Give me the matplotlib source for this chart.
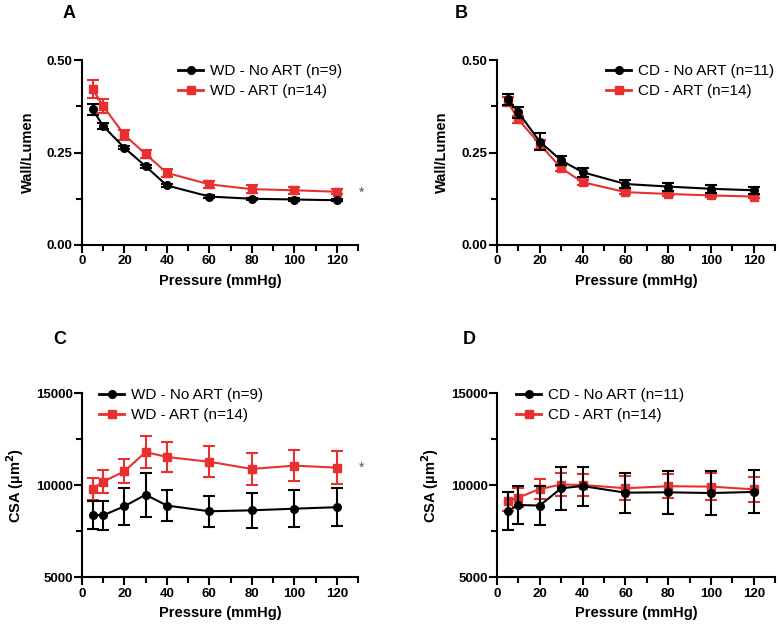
import matplotlib
matplotlib.use("Agg")
import matplotlib.pyplot as plt
from matplotlib.ticker import MultipleLocator
from matplotlib.lines import Line2D

plt.rcParams['font.family'] = ['Liberation Sans', 'DejaVu Sans']

pressure = [5, 10, 20, 30, 40, 60, 80, 100, 120]

# Panel A: Wall/Lumen, WD
a_noart = [0.367, 0.322, 0.263, 0.213, 0.161, 0.131, 0.125, 0.123, 0.121]
a_noart_err = [0.015, 0.007, 0.004, 0.004, 0.003, 0.003, 0.003, 0.003, 0.003]
a_art = [0.422, 0.376, 0.298, 0.246, 0.195, 0.164, 0.151, 0.148, 0.144]
a_art_err = [0.025, 0.019, 0.013, 0.011, 0.010, 0.010, 0.010, 0.009, 0.007]

# Panel B: Wall/Lumen, CD
b_noart = [0.395, 0.359, 0.280, 0.229, 0.197, 0.165, 0.158, 0.152, 0.148]
b_noart_err = [0.015, 0.015, 0.022, 0.012, 0.012, 0.012, 0.011, 0.011, 0.010]
b_art = [0.388, 0.340, 0.273, 0.208, 0.170, 0.143, 0.138, 0.134, 0.131]
b_art_err = [0.012, 0.010, 0.012, 0.007, 0.007, 0.005, 0.005, 0.005, 0.005]

# Panel C: CSA, WD
c_noart = [8380, 8360, 8850, 9480, 8890, 8580, 8630, 8720, 8800]
c_noart_err = [780, 800, 1000, 1200, 820, 830, 960, 1000, 1020]
c_art = [9790, 10190, 10750, 11800, 11530, 11270, 10880, 11060, 10950]
c_art_err = [620, 610, 660, 850, 810, 830, 880, 840, 880]

# Panel D: CSA, CD
d_noart = [8580, 8920, 8890, 9830, 9950, 9590, 9610, 9570, 9630]
d_noart_err = [1020, 1040, 1040, 1180, 1060, 1090, 1160, 1200, 1170]
d_art = [9120, 9320, 9790, 10030, 10010, 9830, 9940, 9920, 9770]
d_art_err = [520, 520, 570, 620, 620, 650, 660, 720, 670]

RED = '#E8302E'
BLACK = '#000000'
W, H = 780, 628

fig = plt.figure(figsize=(7.8, 6.28), dpi=100)

positions = {
    'A': [0.105, 0.610, 0.354, 0.294],
    'B': [0.637, 0.610, 0.357, 0.294],
    'C': [0.105, 0.081, 0.354, 0.293],
    'D': [0.637, 0.081, 0.357, 0.293],
}
# legend anchors (pixels: left, top) and panel letter positions (pixels)
legend_px = {'A': (178, 64), 'B': (606, 64), 'C': (99, 388), 'D': (516, 388)}
letter_px = {'A': (63, 13), 'B': (455, 13), 'C': (53, 339), 'D': (463, 339)}

panels = [
    ('A', a_noart, a_noart_err, a_art, a_art_err, 'WD - No ART (n=9)', 'WD - ART (n=14)', 'wl', True),
    ('B', b_noart, b_noart_err, b_art, b_art_err, 'CD - No ART (n=11)', 'CD - ART (n=14)', 'wl', False),
    ('C', c_noart, c_noart_err, c_art, c_art_err, 'WD - No ART (n=9)', 'WD - ART (n=14)', 'csa', True),
    ('D', d_noart, d_noart_err, d_art, d_art_err, 'CD - No ART (n=11)', 'CD - ART (n=14)', 'csa', False),
]

for key, y1, e1, y2, e2, lab1, lab2, kind, star in panels:
    ax = fig.add_axes(positions[key])
    ax.errorbar(pressure, y2, yerr=e2, color=RED, marker='s', markersize=5.5,
                linewidth=1.5, elinewidth=1.5, capsize=4, capthick=1.5,
                zorder=2, clip_on=False)
    ax.errorbar(pressure, y1, yerr=e1, color=BLACK, marker='o', markersize=5.5,
                linewidth=1.5, elinewidth=1.5, capsize=4, capthick=1.5,
                zorder=3, clip_on=False)
    ax.set_xlim(0, 130)
    ax.set_xticks([0, 20, 40, 60, 80, 100, 120])
    ax.xaxis.set_minor_locator(MultipleLocator(10))
    if kind == 'wl':
        ax.set_ylim(0, 0.5)
        ax.set_yticks([0, 0.25, 0.5])
        ax.set_yticklabels(['0.00', '0.25', '0.50'])
        ax.yaxis.set_minor_locator(MultipleLocator(0.125))
        ax.set_ylabel('Wall/Lumen', fontsize=10.5, fontweight='bold', labelpad=9)
    else:
        ax.set_ylim(5000, 15000)
        ax.set_yticks([5000, 10000, 15000])
        ax.yaxis.set_minor_locator(MultipleLocator(2500))
        ax.set_ylabel('CSA (µm$^\\mathbf{2}$)', fontsize=10.5, fontweight='bold', labelpad=7)
    ax.set_xlabel('Pressure (mmHg)', fontsize=10.5, fontweight='bold', labelpad=5)
    for s in ['top', 'right']:
        ax.spines[s].set_visible(False)
    for s in ['left', 'bottom']:
        ax.spines[s].set_linewidth(1.5)
    ax.tick_params(which='major', direction='out', length=5.5, width=1.5, labelsize=9.5)
    ax.tick_params(which='minor', direction='out', length=4, width=1.5)
    for lbl in ax.get_xticklabels() + ax.get_yticklabels():
        lbl.set_fontweight('bold')
    ax.tick_params(axis='x', pad=2)
    ax.tick_params(axis='y', pad=1)

    h1 = Line2D([], [], color=BLACK, marker='o', markersize=5.5, linewidth=2)
    h2 = Line2D([], [], color=RED, marker='s', markersize=5.5, linewidth=2)
    lx, ly = legend_px[key]
    ax.legend([h1, h2], [lab1, lab2], loc='upper left',
              bbox_to_anchor=(lx / W, 1 - ly / H), bbox_transform=fig.transFigure,
              frameon=False, fontsize=11, handlelength=1.65, handletextpad=0.45,
              labelspacing=0.42, borderaxespad=0, borderpad=0)

    px, py = letter_px[key]
    fig.text(px / W, 1 - py / H, key, fontsize=13, fontweight='bold',
             ha='left', va='center')

    if star:
        ys = 0.142 if kind == 'wl' else 10950
        ax.annotate('*', xy=(130.5, ys), xycoords='data', fontsize=10, color='#555555',
                    ha='left', va='center', annotation_clip=False)

fig.savefig('out.png', dpi=100)
